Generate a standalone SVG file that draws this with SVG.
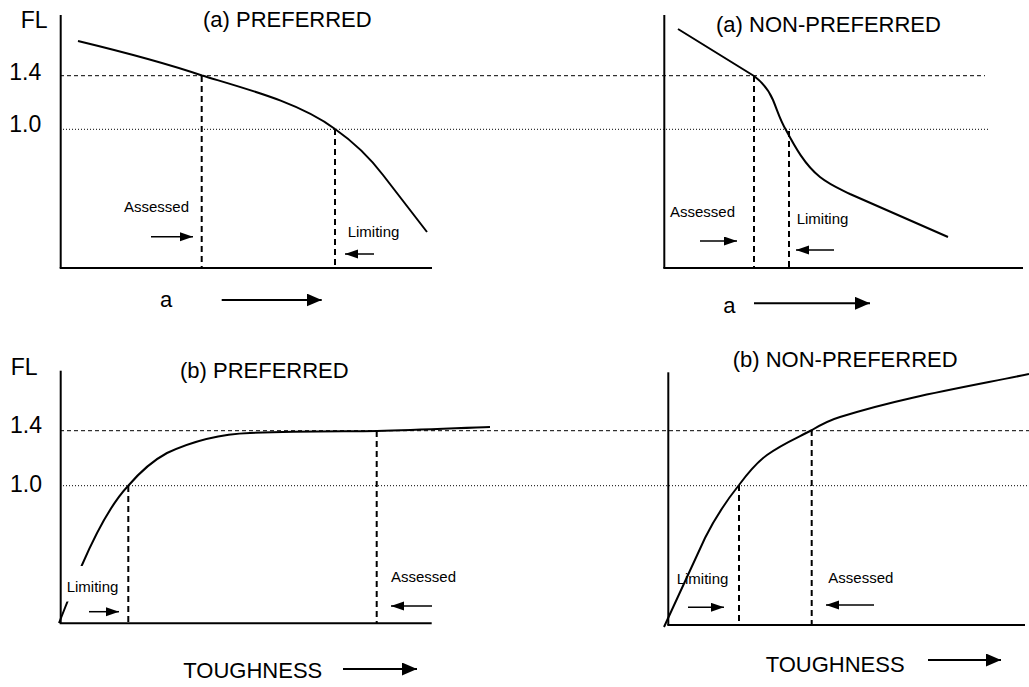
<svg xmlns="http://www.w3.org/2000/svg" width="1029" height="687" viewBox="0 0 1029 687">
<defs>
<style>
text{font-family:"Liberation Sans",Arial,sans-serif;fill:#000}
.big{font-size:23px}
.ttl{font-size:22px}
.sm{font-size:15px}
.axis{stroke:#000;stroke-width:2;fill:none}
.curve{stroke:#000;stroke-width:2;fill:none}
.ref14{stroke:#000;stroke-width:1;stroke-dasharray:4 3;fill:none}
.ref10{stroke:#000;stroke-width:1;stroke-dasharray:1 2;fill:none}
.vdash{stroke:#000;stroke-width:2;stroke-dasharray:6 4;fill:none}
.arr{stroke:#000;stroke-width:1.5;fill:none;marker-end:url(#hs)}
.barr{stroke:#000;stroke-width:2;fill:none;marker-end:url(#hb)}
</style>
<marker id="hs" markerUnits="userSpaceOnUse" markerWidth="14" markerHeight="10" refX="13" refY="4.5" orient="auto"><path d="M0,0 L13,4.5 L0,9 z" fill="#000"/></marker>
<marker id="hb" markerUnits="userSpaceOnUse" markerWidth="16" markerHeight="14" refX="15" refY="6.5" orient="auto"><path d="M0,0 L15,6.5 L0,13 z" fill="#000"/></marker>
</defs>
<rect width="1029" height="687" fill="#fff"/>

<g id="reference-lines">
<line class="ref14" x1="60" y1="75.7" x2="985" y2="75.7"/>
<line class="ref10" x1="60" y1="129.3" x2="990" y2="129.3"/>
<line class="ref14" x1="60" y1="430.7" x2="1029" y2="430.7"/>
<line class="ref10" x1="60" y1="485.7" x2="1029" y2="485.7"/>
</g>

<g id="panel-a-preferred">
<line class="axis" x1="60.7" y1="15" x2="60.7" y2="268"/>
<line class="axis" x1="59.7" y1="268" x2="432" y2="268"/>
<path class="curve" d="M78,41 C140,56 180,68 202,75.5 C250,90 300,103 335,129 C355,143 370,158 383,175 L427,232"/>
<line class="vdash" x1="201.7" y1="76" x2="201.7" y2="268"/>
<line class="vdash" x1="335" y1="129" x2="335" y2="268"/>
<text class="big" x="20.7" y="28">FL</text>
<text class="big" x="9.3" y="80">1.4</text>
<text class="big" x="9.3" y="132.3">1.0</text>
<text class="ttl" x="203" y="26.5">(a) PREFERRED</text>
<text class="sm" x="124" y="211.7">Assessed</text>
<text class="sm" x="347.7" y="237">Limiting</text>
<text class="ttl" x="160" y="307">a</text>
</g>

<g id="panel-a-nonpreferred">
<line class="axis" x1="664.3" y1="15" x2="664.3" y2="268"/>
<line class="axis" x1="663.3" y1="268" x2="1023" y2="268"/>
<path class="curve" d="M678,29 L754,76 C762,82 768,88 773,100 C778,112 780,120 786,130 C795,147 805,165 820,177 C830,185 840,189 850,194 L948,237"/>
<line class="vdash" x1="754" y1="76" x2="754" y2="268"/>
<line class="vdash" x1="789" y1="131" x2="789" y2="268"/>
<text class="ttl" x="716" y="31.5">(a) NON-PREFERRED</text>
<text class="sm" x="670" y="216.7">Assessed</text>
<text class="sm" x="796.7" y="224.3">Limiting</text>
<text class="ttl" x="723.3" y="312.7">a</text>
</g>

<g id="panel-b-preferred">
<line class="axis" x1="60.7" y1="370.7" x2="60.7" y2="623.3"/>
<line class="axis" x1="59.7" y1="623.3" x2="431.7" y2="623.3"/>
<path class="curve" d="M59,623 L82,565 C95,535 110,505 128,486 C140,472 152,461 167,453 C195,440 220,434 250,433 C300,431 340,431.5 377,431 C420,430 460,428 490,427"/>
<rect x="62" y="566" width="56" height="35.5" fill="#fff"/>
<line class="vdash" x1="128.3" y1="486" x2="128.3" y2="623"/>
<line class="vdash" x1="376.7" y1="431" x2="376.7" y2="623"/>
<text class="big" x="10.7" y="375">FL</text>
<text class="big" x="10" y="433.3">1.4</text>
<text class="big" x="10" y="491.7">1.0</text>
<text class="ttl" x="180" y="378">(b) PREFERRED</text>
<text class="sm" x="66.7" y="591.7">Limiting</text>
<text class="sm" x="391" y="581.7">Assessed</text>
<text class="ttl" x="183.3" y="678.3">TOUGHNESS</text>
</g>

<g id="panel-b-nonpreferred">
<line class="axis" x1="668.3" y1="372.3" x2="668.3" y2="625"/>
<line class="axis" x1="667.3" y1="625" x2="1025" y2="625"/>
<path class="curve" d="M664,627 L705,538 C715,518 727,500 739,485 C748,473 756,463 767,455 C782,444 797,438 812,430 C822,424 830,420 840,417 C900,398 960,388 1029,374"/>
<line class="vdash" x1="739" y1="485" x2="739" y2="625"/>
<line class="vdash" x1="811.7" y1="430" x2="811.7" y2="625"/>
<text class="ttl" x="732.7" y="366.7">(b) NON-PREFERRED</text>
<text class="sm" x="676.7" y="584.3">Limiting</text>
<text class="sm" x="828.3" y="583.3">Assessed</text>
<text class="ttl" x="765.7" y="671.7">TOUGHNESS</text>
</g>

<g id="connectors">
<line class="arr" x1="151" y1="236.7" x2="193" y2="236.7"/>
<line class="arr" x1="374" y1="254" x2="345" y2="254"/>
<line class="arr" x1="700" y1="241" x2="737" y2="241"/>
<line class="arr" x1="834" y1="250" x2="796" y2="250"/>
<line class="arr" x1="89" y1="611.7" x2="119" y2="611.7"/>
<line class="arr" x1="432" y1="606" x2="391" y2="606"/>
<line class="arr" x1="688" y1="607.3" x2="724" y2="607.3"/>
<line class="arr" x1="874" y1="605" x2="826" y2="605"/>
<line class="barr" x1="221.7" y1="300" x2="321.7" y2="300"/>
<line class="barr" x1="754" y1="303.3" x2="870" y2="303.3"/>
<line class="barr" x1="343" y1="669" x2="417" y2="669"/>
<line class="barr" x1="928" y1="660" x2="1001" y2="660"/>
</g>
</svg>
